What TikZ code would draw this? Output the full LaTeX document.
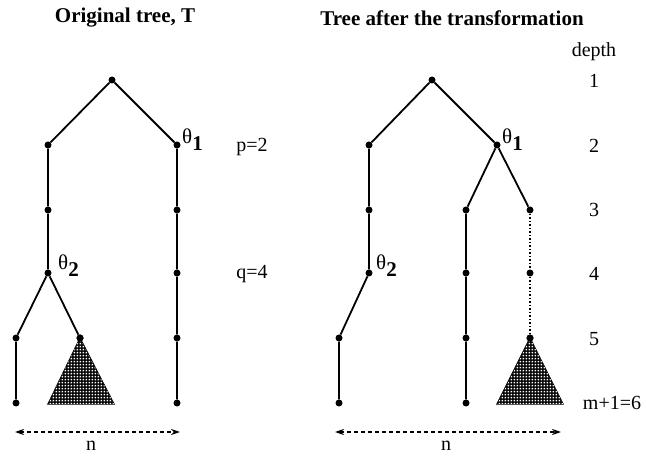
\documentclass[tikz,border=0pt]{standalone}
\usepackage{fontspec}
\setmainfont{Liberation Serif}
\usetikzlibrary{arrows.meta,patterns}
\pgfdeclarepatternformonly{whitegrid}{\pgfqpoint{0pt}{0pt}}{\pgfqpoint{3.3pt}{3.3pt}}{\pgfqpoint{3.3pt}{3.3pt}}{%
  \pgfpathrectangle{\pgfqpoint{0.9pt}{0.9pt}}{\pgfqpoint{1.5pt}{1.5pt}}\pgfusepath{fill}}
\begin{document}
\begin{tikzpicture}[x=1pt,y=-1pt,
  dot/.style={circle,fill=black,inner sep=0pt,minimum size=7pt},
  edge/.style={line width=1.8pt},
  lbl/.style={font=\fontsize{20}{20}\selectfont},
  ttl/.style={font=\fontsize{21}{21}\selectfont\bfseries},
  th/.style={font=\fontsize{21}{21}\selectfont},
  span/.style={dashed,dash pattern=on 4pt off 3pt,line width=1.3pt,{Stealth[length=9pt,width=6pt]}-{Stealth[length=9pt,width=6pt]}},
  tri/.style={draw=black,line width=1.2pt,fill=black,postaction={pattern=whitegrid,pattern color=white}}]
\useasboundingbox (0,0) rectangle (646,457);
% titles
\node[ttl] (t1) at (125,18) {Original tree, T};
\node[ttl] (t2) at (452,18) {Tree after the transformation};
% ---------- left tree ----------
\node[dot] (r) at (112,80) {};
\node[dot] (a2) at (48,145) {};
\node[dot] (a3) at (48,210) {};
\node[dot] (a4) at (48,273) {};
\node[dot] (b5) at (16,338) {};
\node[dot] (b6) at (16,403) {};
\node[dot] (c5) at (80,338) {};
\node[dot] (d2) at (177,145) {};
\node[dot] (d3) at (177,210) {};
\node[dot] (d4) at (177,273) {};
\node[dot] (d5) at (177,338) {};
\node[dot] (d6) at (177,403) {};
\draw[edge] (r) -- (a2) -- (a3) -- (a4);
\draw[edge] (a4) -- (b5) -- (b6);
\draw[edge] (a4) -- (c5);
\draw[edge] (r) -- (d2) -- (d3) -- (d4) -- (d5) -- (d6);
\coordinate (cL) at (48,404);
\coordinate (cR) at (114,404);
\draw[tri] (c5.center) -- (cL) -- (cR) -- cycle;
\node[dot] at (c5) {};
\node[th,anchor=west,inner sep=0pt] (th1) at (182,140) {θ\textsubscript{\textbf{\fontsize{21}{21}\selectfont 1}}};
\node[th,anchor=west,inner sep=0pt] (th2) at (58,266) {θ\textsubscript{\textbf{\fontsize{21}{21}\selectfont 2}}};
\node[lbl] (p) at (252,147) {p=2};
\node[lbl] (q) at (252,274) {q=4};
\coordinate (nL1) at (15,432);
\coordinate (nR1) at (180,432);
\draw[span] (nL1) -- (nR1);
\node[lbl] (n1) at (91,446) {n};
% ---------- right tree ----------
\node[dot] (R) at (432,80) {};
\node[dot] (A2) at (369,145) {};
\node[dot] (A3) at (369,210) {};
\node[dot] (A4) at (369,273) {};
\node[dot] (B5) at (339,338) {};
\node[dot] (B6) at (339,403) {};
\node[dot] (D2) at (497,145) {};
\node[dot] (E3) at (466,210) {};
\node[dot] (E4) at (466,273) {};
\node[dot] (E5) at (466,338) {};
\node[dot] (E6) at (466,403) {};
\node[dot] (F3) at (530,210) {};
\node[dot] (F4) at (530,273) {};
\node[dot] (F5) at (530,338) {};
\draw[edge] (R) -- (A2) -- (A3) -- (A4) -- (B5) -- (B6);
\draw[edge] (R) -- (D2) -- (E3) -- (E4) -- (E5) -- (E6);
\draw[edge] (D2) -- (F3);
\draw[line width=1.5pt,dotted] (F3) -- (F4) -- (F5);
\coordinate (CL) at (497,404);
\coordinate (CR) at (563,404);
\draw[tri] (F5.center) -- (CL) -- (CR) -- cycle;
\node[dot] at (F5) {};
\node[th,anchor=west,inner sep=0pt] (Th1) at (502,140) {θ\textsubscript{\textbf{\fontsize{21}{21}\selectfont 1}}};
\node[th,anchor=west,inner sep=0pt] (Th2) at (376,266) {θ\textsubscript{\textbf{\fontsize{21}{21}\selectfont 2}}};
\coordinate (nL2) at (335,432);
\coordinate (nR2) at (561,432);
\draw[span] (nL2) -- (nR2);
\node[lbl] (n2) at (446,446) {n};
% depth labels
\node[lbl] (dp) at (594,52) {depth};
\node[lbl] (l1) at (594,81) {1};
\node[lbl] (l2) at (594,146) {2};
\node[lbl] (l3) at (594,210) {3};
\node[lbl] (l4) at (594,274) {4};
\node[lbl] (l5) at (594,339) {5};
\node[lbl] (l6) at (612,403) {m+1=6};
\end{tikzpicture}
\end{document}
